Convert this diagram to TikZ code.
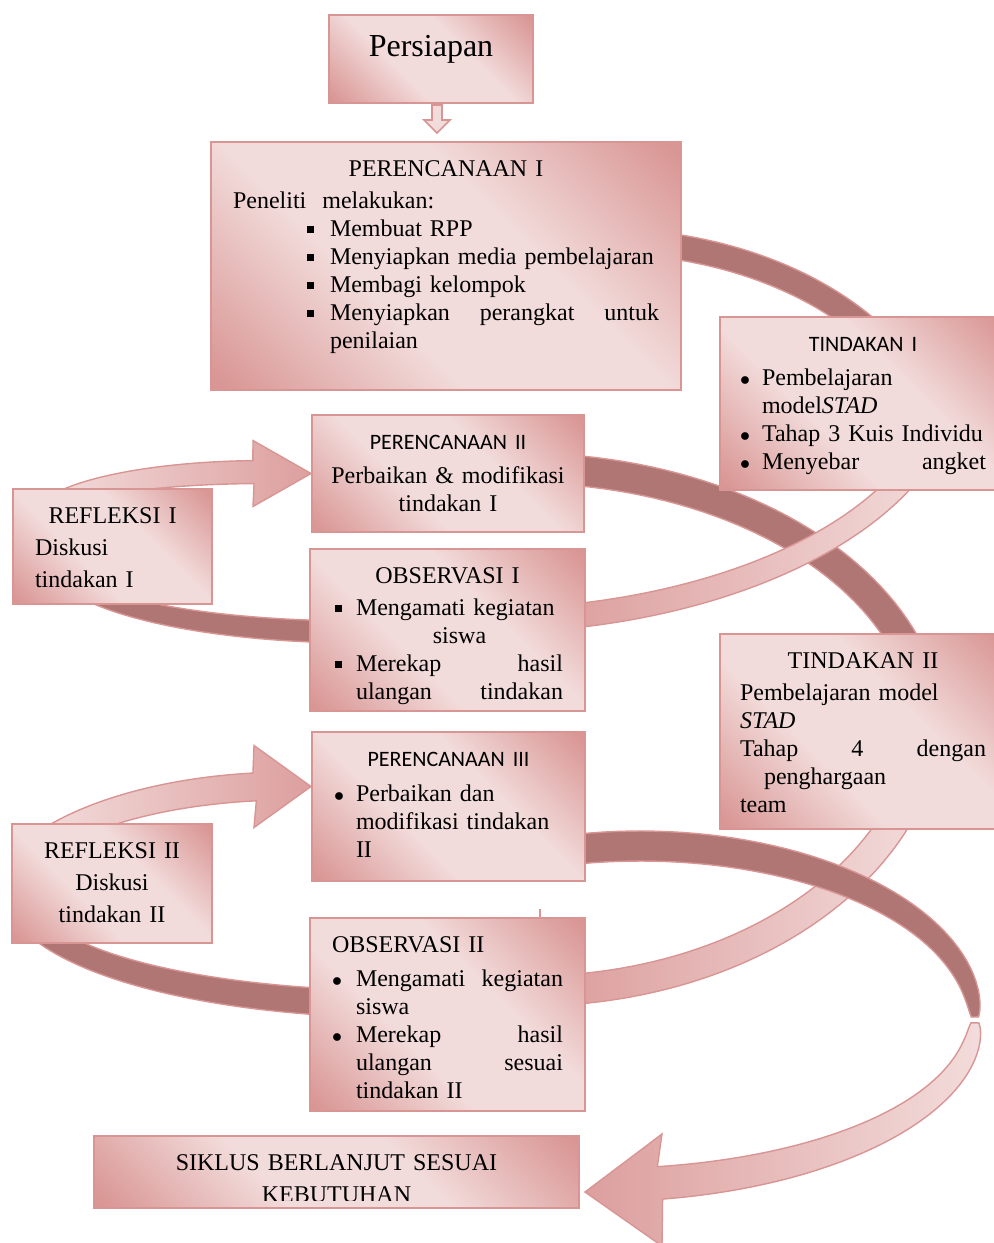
\documentclass[tikz,border=0pt]{standalone}
\usepackage{fontspec}
\setmainfont{Liberation Serif}
\setsansfont{Carlito}
\usepackage{tikz}
\usepackage{xcolor}
\usetikzlibrary{calc,backgrounds}
\definecolor{pkDark}{HTML}{D99694}
\definecolor{pkLight}{HTML}{F2DCDB}
\definecolor{pkLine}{HTML}{D99594}
\definecolor{rbDark}{HTML}{AF7674}
\definecolor{rbMid}{HTML}{DC9F9E}
\definecolor{rbPale}{HTML}{F2DCDB}
\pgfdeclareverticalshading{pinkfill}{100bp}{color(0bp)=(pkDark); color(16bp)=(pkDark);
  color(40bp)=(pkLight); color(60bp)=(pkLight); color(84bp)=(pkDark); color(100bp)=(pkDark)}
\newcommand{\hd}[1]{{\sffamily\fontsize{11}{14}\selectfont #1}}
\newcommand{\sqb}{\rule[0.3ex]{3.4pt}{3.4pt}}
\newcommand{\rdb}{{\fontsize{10}{14}\selectfont$\bullet$}}
\newcommand{\litem}[3]{\par\hangindent=#2\hangafter=1\noindent\makebox[#2][l]{\hspace*{#1}#3}\ignorespaces}
% band along an ellipse: style, cx, cy, rx, ry, width, from, to
\newcommand{\ribbon}[8]{%
  \path[#1] plot[domain=#7:#8,samples=48,variable=\t]
      ({#2+(#4+(#6)/2)*cos(\t)},{#3+(#5+(#6)/2)*sin(\t)})
    -- plot[domain=#8:#7,samples=48,variable=\t]
      ({#2+(#4-(#6)/2)*cos(\t)},{#3+(#5-(#6)/2)*sin(\t)})
    -- cycle;}
% same, with an arrow head put between the two edges
\newcommand{\ribbonhead}[9]{%
  \path[#1] plot[domain=#7:#8,samples=48,variable=\t]
      ({#2+(#4+(#6)/2)*cos(\t)},{#3+(#5+(#6)/2)*sin(\t)}) #9
    -- plot[domain=#8:#7,samples=48,variable=\t]
      ({#2+(#4-(#6)/2)*cos(\t)},{#3+(#5-(#6)/2)*sin(\t)})
    -- cycle;}
\tikzset{
  box/.style={draw=pkLine,line width=1pt,shade,shading=pinkfill,shading angle=-45,
              anchor=north west,inner xsep=11pt,inner ysep=0pt,text height=17pt,align=left,
              font=\fontsize{12}{14}\selectfont},
  pbox/.style={box,text width=#1},
  cbox/.style={box,text width=#1,align=center},
  backband/.style={fill=rbDark,draw=pkLine,line width=0.7pt},
  frontband/.style={left color=rbMid,right color=rbPale,draw=pkLine,line width=0.7pt},
  backarrow/.style={left color=rbPale,right color=rbMid,draw=pkLine,line width=0.7pt},
  blockarrow/.style={fill=pkLight,draw=pkLine,line width=0.8pt},
}

\begin{document}
\hyphenpenalty=10000
\exhyphenpenalty=10000
\begin{tikzpicture}[x=0.5pt,y=-0.5pt]
\useasboundingbox (0,0) rectangle (994,1243);

% ---------------------------------------------------------------- CYCLE I
\node[cbox=80pt,text height=20.75pt,text depth=23.25pt,font=\fontsize{16}{19}\selectfont]
  (pers) at (328,14) {Persiapan};

\node[pbox=213pt,text depth=107pt] (per1) at (210,141) {%
\centerline{PERENCANAAN I}\par\vspace{2pt}
Peneliti\ \ melakukan:
\litem{37pt}{48.5pt}{\sqb}Membuat RPP
\litem{37pt}{48.5pt}{\sqb}Menyiapkan media pembelajaran
\litem{37pt}{48.5pt}{\sqb}Membagi kelompok
\litem{37pt}{48.5pt}{\sqb}Menyiapkan\hfill perangkat\hfill untuk\newline penilaian\par};

\node[pbox=123pt,inner xsep=10pt,text depth=69.5pt] (tin1) at (719,316) {%
\centerline{\hd{TINDAKAN I}}\par\vspace{3pt}
\litem{0pt}{11pt}{\rdb}Pembelajaran\newline model\textit{STAD}
\litem{0pt}{11pt}{\rdb}Tahap 3 Kuis Individu
\litem{0pt}{11pt}{\rdb}Menyebar\hfill angket\par};

\node[pbox=115.5pt,text depth=64pt] (obs1) at (309,548) {%
\centerline{OBSERVASI I}\par\vspace{2pt}
\litem{1.5pt}{12pt}{\sqb}Mengamati kegiatan\newline\null\hfill siswa\hfill\null
\litem{1.5pt}{12pt}{\sqb}Merekap\hfill hasil\newline ulangan\hfill tindakan\par};

\node[pbox=77.5pt,text depth=40.5pt,font=\fontsize{12}{16}\selectfont] (ref1) at (12,488) {%
\centerline{REFLEKSI I}
Diskusi\\tindakan I};

% ---------------------------------------------------------------- CYCLE II
\node[cbox=118pt,inner xsep=9pt,text depth=41.5pt] (per2) at (311,414) {%
\hd{PERENCANAAN II}\\[3pt]
Perbaikan \& modifikasi\\tindakan I};

\node[pbox=123pt,inner xsep=10pt,text depth=80.5pt] (tin2) at (719,633) {%
\centerline{TINDAKAN II}\par\vspace{2pt}
Pembelajaran model\\\textit{STAD}\\Tahap\hfill 4\hfill dengan\\\hspace*{12pt}penghargaan\\team};

\node[pbox=115.5pt,text depth=79.5pt] (obs2) at (309,917) {%
OBSERVASI II\par\vspace{3pt}
\litem{0pt}{12pt}{\rdb}Mengamati\hfill kegiatan\newline siswa
\litem{0pt}{12pt}{\rdb}Merekap\hfill hasil\newline ulangan\hfill sesuai\newline tindakan II\par};

\node[cbox=78pt,text depth=42.5pt,font=\fontsize{12}{16}\selectfont] (ref2) at (11,823)
  {REFLEKSI II\\Diskusi\\tindakan II};

% ---------------------------------------------------------------- CYCLE III
\node[pbox=114.5pt,text depth=57.5pt] (per3) at (311,731) {%
\centerline{\hd{PERENCANAAN III}}\par\vspace{3.5pt}
\litem{0pt}{11pt}{\rdb}Perbaikan dan\newline modifikasi tindakan\newline II\par};

\node[cbox=220.5pt,text depth=19pt] (siklus) at (93,1135) {SIKLUS BERLANJUT SESUAI};
\begin{scope}
  \clip (siklus.north west) rectangle ($(siklus.south east)+(0,-9)$);
  \node[font=\fontsize{12}{14}\selectfont] (kebut) at ($(siklus.center)+(0,23)$) {KEBUTUHAN};
\end{scope}

\coordinate (tip3) at ($(per3.west)+(0,-20)$);
\coordinate (tip5) at ($(siklus.east)+(5,20)$);

% ---------------------------------------------------------------- arrows
\draw[blockarrow] ($(pers.south)+(1,1)$) -- ++(0,15) -- ++(-8,0) -- ++(13,13)
  -- ++(13,-13) -- ++(-8,0) -- ++(0,-15) -- cycle;
\draw[pkLine,line width=1.2pt] ($(obs2.north west)+(231,0)$) -- ++(0,-8);

\begin{scope}[on background layer]
  \fill[white] (0,0) rectangle (994,1243);
  % back halves
  \ribbon{backband}{360}{562}{300}{70}{22}{80}{160}
  \ribbon{backband}{400}{894}{380}{110}{27}{75}{160}
  \ribbon{backband}{600}{471}{340}{230}{25}{270}{345}
  \ribbon{backband}{520}{736}{410}{268}{30}{265}{355}
  % front halves
  \ribbon{frontband}{480}{371}{470}{250}{24}{15}{80}
  \ribbon{frontband}{530}{703}{400}{288}{30}{15}{85}
  \ribbon{backband}{640}{1020}{335}{174}{30*abs(sin(\t))^0.35}{255}{359}
  \ribbonhead{frontband}{600}{1020}{375}{165}{33*abs(sin(\t))^0.35}{1}{80.8}
    {-- ($(tip5)+(77,54)$) -- (tip5) -- ($(tip5)+(77,-58)$)}
  \ribbonhead{backarrow}{265}{517}{220}{45}{23}{200}{267}
    {-- ($(per2.west)+(-58,-33)$) -- (per2.west) -- ($(per2.west)+(-58,33)$)}
  \ribbonhead{backarrow}{290}{908}{290}{122}{28}{215}{263}
    {-- ($(tip3)+(-57,-41)$) -- (tip3) -- ($(tip3)+(-57,41)$)}
\end{scope}

\end{tikzpicture}
\end{document}
